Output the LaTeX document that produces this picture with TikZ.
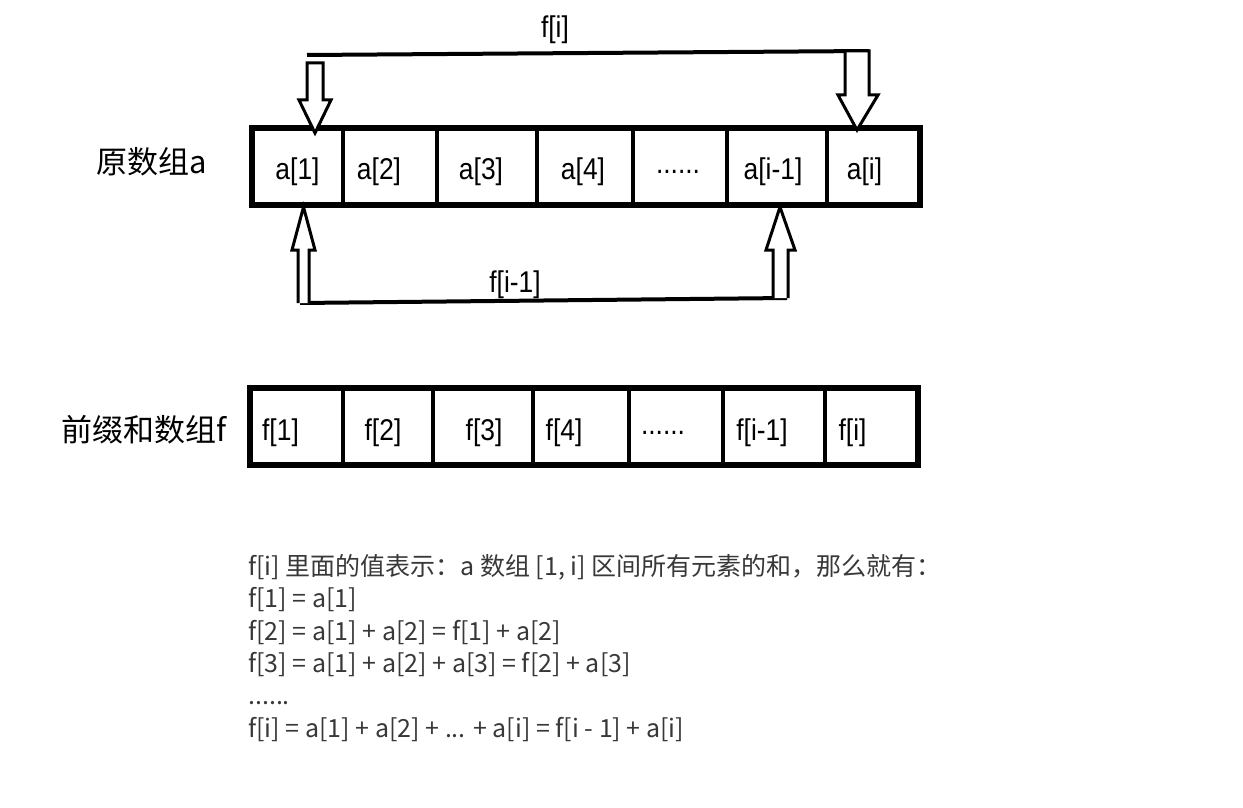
\documentclass[tikz,border=0pt]{standalone}
\usepackage{fontspec}
\setmainfont{Liberation Sans}
\newfontfamily\cjk{Noto Sans CJK SC}
\usetikzlibrary{positioning}
\newcommand\narrowtxt[1]{\scalebox{0.88}[1]{#1}}

\begin{document}
\begin{tikzpicture}[x=1pt,y=-1pt,
    cell/.style={draw, line width=4pt, minimum height=77pt, inner sep=0pt, outer sep=0pt},
    lbl/.style={font=\fontsize{30}{30}\selectfont, inner sep=0pt, yshift=-6pt},
    side/.style={font=\cjk\fontsize{31}{31}\selectfont, inner sep=0pt},
    note/.style={font=\cjk\fontsize{25}{25}\selectfont, text=black!78, anchor=base west, inner sep=0pt},
    hollow/.style={draw, line width=3pt, line join=miter, fill=white}]
\useasboundingbox (0,0) rectangle (1243,808);

% original array a
\node[cell, minimum width=91pt] (a1) at (297.5,166) {};
\node[cell, minimum width=94pt, right=0pt of a1] (a2) {};
\node[cell, minimum width=100pt, right=0pt of a2] (a3) {};
\node[cell, minimum width=96pt, right=0pt of a3] (a4) {};
\node[cell, minimum width=94pt, right=0pt of a4] (adots) {};
\node[cell, minimum width=100pt, right=0pt of adots] (aim) {};
\node[cell, minimum width=93pt, right=0pt of aim] (ai) {};
\draw[line width=6pt] (a1.north west) rectangle (ai.south east);
\node[lbl] at (a1) {\narrowtxt{a[1]}};
\node[lbl] at ([xshift=-11pt]a2.center) {\narrowtxt{a[2]}};
\node[lbl] at ([xshift=-6pt]a3.center) {\narrowtxt{a[3]}};
\node[lbl] at ([xshift=-2pt]a4.center) {\narrowtxt{a[4]}};
\node[lbl] at ([xshift=-2pt]adots.center) {\narrowtxt{......}};
\node[lbl] at ([xshift=-4pt]aim.center) {\narrowtxt{a[i-1]}};
\node[lbl] at ([xshift=-9pt]ai.center) {\narrowtxt{a[i]}};
\node[side] (alabel) at (152,162) {原数组a};

% prefix sum array f
\node[cell, minimum width=93pt] (f1) at (296.5,426.5) {};
\node[cell, minimum width=90pt, right=0pt of f1] (f2) {};
\node[cell, minimum width=100pt, right=0pt of f2] (f3) {};
\node[cell, minimum width=96pt, right=0pt of f3] (f4) {};
\node[cell, minimum width=94pt, right=0pt of f4] (fdots) {};
\node[cell, minimum width=102pt, right=0pt of fdots] (fim) {};
\node[cell, minimum width=93pt, right=0pt of fim] (fi) {};
\draw[line width=6pt] (f1.north west) rectangle (fi.south east);
\node[lbl] at ([xshift=-16pt]f1.center) {\narrowtxt{f[1]}};
\node[lbl] at ([xshift=-5pt]f2.center) {\narrowtxt{f[2]}};
\node[lbl] at ([xshift=1pt]f3.center) {\narrowtxt{f[3]}};
\node[lbl] at ([xshift=-17pt]f4.center) {\narrowtxt{f[4]}};
\node[lbl] at ([xshift=-13pt]fdots.center) {\narrowtxt{......}};
\node[lbl] at ([xshift=-12pt]fim.center) {\narrowtxt{f[i-1]}};
\node[lbl] at ([xshift=-19pt]fi.center) {\narrowtxt{f[i]}};
\node[side] (flabel) at (144,430) {前缀和数组f};

% f[i] bracket above
\coordinate (fiL) at (307,55);
\coordinate (fiR) at (869,51);
\draw[line width=4pt] (fiL) -- (fiR);
\draw[hollow] (307,63) -- (323,63) -- (323,100) -- (331,100) -- (315,133)
    -- (299,100) -- (307,100) -- cycle;
\draw[hollow] (845,51) -- (869,51) -- (869,95) -- (878,95) -- (857,130)
    -- (838,95) -- (845,95) -- cycle;
\node[lbl] (fitop) at (555,24) {\narrowtxt{f[i]}};

% f[i-1] bracket below
\coordinate (fimL) at (300,303);
\coordinate (fimR) at (787,298);
\draw[line width=4pt] (fimL) -- (fimR);
\draw[hollow] (298,303) -- (298,250) -- (292,250) -- (303.5,207) -- (315,250)
    -- (309,250) -- (309,303);
\draw[hollow] (773,298) -- (773,250) -- (766,250) -- (780,207) -- (795,250)
    -- (788,250) -- (788,298);
\node[lbl] (fimbot) at (515,279) {\narrowtxt{f[i-1]}};

% explanation
\node[note] (n1) at (248,575) {f[i] 里面的值表示：a 数组 [1, i] 区间所有元素的和，那么就有：};
\node[note] (n2) at (248,607) {f[1] = a[1]};
\node[note] (n3) at (248,640) {f[2] = a[1] + a[2] = f[1] + a[2]};
\node[note] (n4) at (248,672) {f[3] = a[1] + a[2] + a[3] = f[2] + a[3]};
\node[note] (n5) at (248,704) {......};
\node[note] (n6) at (248,737) {f[i] = a[1] + a[2] + ... + a[i] = f[i - 1] + a[i]};
\end{tikzpicture}
\end{document}
